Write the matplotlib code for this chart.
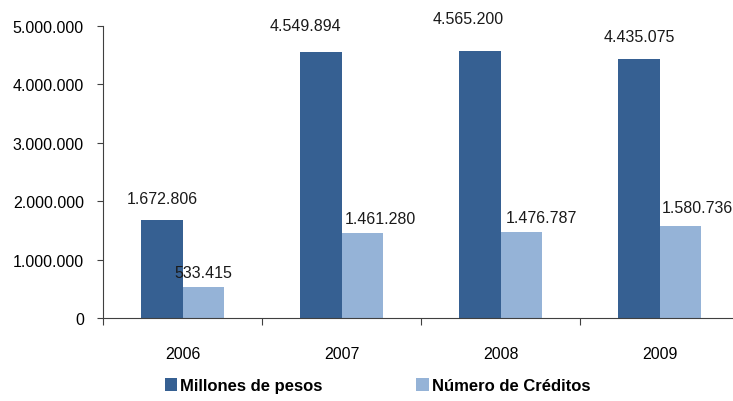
import matplotlib.pyplot as plt
import numpy as np
from matplotlib.ticker import FuncFormatter

years = ['2006', '2007', '2008', '2009']
millones_pesos = [1672806, 4549894, 4565200, 4435075]
numero_creditos = [533415, 1461280, 1476787, 1580736]
series_names = ['Millones de pesos', 'Número de Créditos']

DARK = '#366092'
LIGHT = '#95B3D7'
FONT = ['Liberation Sans', 'DejaVu Sans']
FS = 11.5


def fmt_miles(v):
    return f'{int(round(v)):,}'.replace(',', '.')


def main():
    plt.rcParams['font.family'] = FONT
    fig = plt.figure(figsize=(7.33, 4.02), dpi=100)
    ax = fig.add_axes([103 / 733, 83 / 402, 636 / 733, 292 / 402])

    x = np.arange(len(years))
    w = 0.258
    b1 = ax.bar(x - w / 2, millones_pesos, w, color=DARK, label=series_names[0])
    b2 = ax.bar(x + w / 2, numero_creditos, w, color=LIGHT, label=series_names[1])

    # Excel label placement (pixel offsets dx, dy above bar top)
    off1 = [(0, 14), (-16, 19), (-12, 25), (0, 15)]
    off2 = [(0, 7), (18, 7), (20, 7), (17, 11)]
    for bars, vals, offs in ((b1, millones_pesos, off1), (b2, numero_creditos, off2)):
        for rect, v, (dx, dy) in zip(bars, vals, offs):
            ax.annotate(fmt_miles(v), (rect.get_x() + rect.get_width() / 2, v),
                        xytext=(dx * 0.72, dy * 0.72), textcoords='offset points',
                        ha='center', va='bottom', fontsize=FS, color='#1a1a1a')

    ax.set_xlim(-0.5, len(years) - 0.5)
    ax.set_ylim(0, 5000000)
    ax.set_yticks(np.arange(0, 5000001, 1000000))
    ax.yaxis.set_major_formatter(FuncFormatter(lambda v, p: fmt_miles(v)))
    ax.set_xticks(np.arange(-0.5, len(years), 1.0), minor=False)
    ax.set_xticklabels([])
    ax.set_xticks(x, minor=True)
    ax.set_xticklabels(years, minor=True)
    ax.tick_params(axis='x', which='minor', length=0, pad=20, labelsize=FS)
    ax.tick_params(axis='x', which='major', length=5, width=0.8, color='#404040')
    ax.tick_params(axis='y', length=4.3, width=0.8, pad=9.5, labelsize=FS, color='#404040')
    for s in ('top', 'right'):
        ax.spines[s].set_visible(False)
    for s in ('left', 'bottom'):
        ax.spines[s].set_color('#404040')
        ax.spines[s].set_linewidth(0.8)

    fig.legend(handles=[b1, b2], loc='center', bbox_to_anchor=(0.515, 0.038), ncol=2,
               frameon=False, handlelength=0.75, handleheight=0.75, handletextpad=0.2,
               columnspacing=5.6, prop={'family': FONT, 'weight': 'bold', 'size': 12})

    fig.savefig('out.png', dpi=100)


if __name__ == '__main__':
    main()
